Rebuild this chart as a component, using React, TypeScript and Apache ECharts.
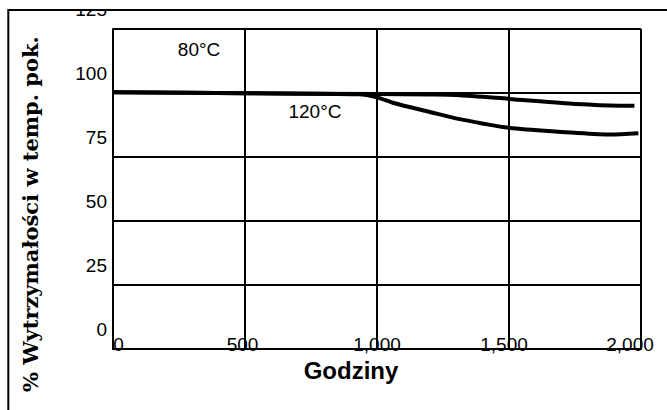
import React, { useEffect, useRef } from "react";
import * as echarts from "echarts";

const hours80 = [0, 500, 1000, 1200, 1300, 1500, 1700, 1880, 1975];
const strength80 = [100.3, 99.9, 99.6, 99.4, 99.2, 97.7, 96.1, 95.1, 95.0];
const hours120 = [0, 500, 930, 1000, 1060, 1200, 1313, 1500, 1700, 1880, 1990];
const strength120 = [100.3, 99.9, 99.5, 98.3, 96.2, 92.6, 89.8, 86.4, 84.8, 83.8, 84.3];
const xTicks = [0, 500, 1000, 1500, 2000];
const xTickLabels = ["0", "500", "1,000", "1,500", "2,000"];
const yTicks = [0, 25, 50, 75, 100, 125];
const seriesNames = ["80°C", "120°C"];
const annotationTexts = ["80°C", "120°C"];
const annotationHours = [326, 765];
const annotationValues = [116.9, 92.8];

export default function App() {
  const ref = useRef<HTMLDivElement>(null);
  useEffect(() => {
    if (!ref.current) return;
    const chart = echarts.init(ref.current, null, { renderer: "svg" });
    const font = "Liberation Sans, Arial, sans-serif";
    const richKeys = ["a", "b", "c", "d", "e"];
    const pads: Record<string, number[]> = {
      a: [0, 0, 0, 11],
      b: [0, 5, 0, 0],
      c: [0, 0, 0, 0],
      d: [0, 10, 0, 0],
      e: [0, 22, 0, 0],
    };
    const rich: any = {};
    richKeys.forEach((k) => {
      rich[k] = { fontSize: 19, fontFamily: font, color: "#000", padding: pads[k] };
    });
    const frame = [
      { type: "rect", z: 100, shape: { x: 0, y: 0, width: 667, height: 9 }, style: { fill: "#fff" } },
      { type: "line", z: 101, shape: { x1: 8, y1: 10, x2: 667, y2: 10 }, style: { stroke: "#000", lineWidth: 2 } },
      { type: "line", z: 101, shape: { x1: 8.3, y1: 9, x2: 8.3, y2: 410 }, style: { stroke: "#000", lineWidth: 2 } },
      { type: "line", z: 50, shape: { x1: 641, y1: 29, x2: 641, y2: 349 }, style: { stroke: "#000", lineWidth: 2 } },
    ];
    chart.setOption({
      animation: false,
      backgroundColor: "#fff",
      grid: { left: 113, right: 26, top: 29, bottom: 61, show: false },
      xAxis: {
        type: "value",
        min: 0,
        max: 2000,
        interval: 500,
        name: "Godziny",
        nameLocation: "middle",
        nameGap: 5,
        nameTextStyle: {
          fontSize: 24,
          fontWeight: "bold",
          fontFamily: font,
          color: "#000",
          padding: [0, 52, 0, 0],
          verticalAlign: "top",
        },
        axisLine: { show: true, lineStyle: { color: "#000", width: 2 } },
        axisTick: { show: false },
        splitLine: { show: true, lineStyle: { color: "#000", width: 2 } },
        axisLabel: {
          margin: -14,
          formatter: (v: number) => {
            const i = xTicks.indexOf(v);
            return i >= 0 ? `{${richKeys[i]}|${xTickLabels[i]}}` : "";
          },
          rich,
        },
      },
      yAxis: {
        type: "value",
        min: 0,
        max: 125,
        interval: 25,
        name: "% Wytrzymałości w temp. pok.",
        nameLocation: "middle",
        nameGap: 72,
        nameRotate: 90,
        nameTextStyle: {
          fontSize: 21,
          fontWeight: "bold",
          fontFamily: "DejaVu Serif, serif",
          color: "#000",
          padding: [0, 50, 0, 0],
        },
        axisLine: { show: true, lineStyle: { color: "#000", width: 2 } },
        axisTick: { show: false },
        splitLine: { show: true, lineStyle: { color: "#000", width: 2 } },
        axisLabel: {
          fontSize: 19,
          fontFamily: font,
          color: "#000",
          margin: 6,
          verticalAlign: "bottom",
          padding: [0, 0, 10, 0],
          formatter: (v: number) => (yTicks.indexOf(v) >= 0 ? String(v) : ""),
        },
      },
      graphic: frame,
      series: [
        {
          name: seriesNames[0],
          type: "line",
          data: hours80.map((h, i) => [h, strength80[i]]),
          smooth: 0.3,
          showSymbol: false,
          lineStyle: { color: "#000", width: 4 },
          z: 5,
        },
        {
          name: seriesNames[1],
          type: "line",
          data: hours120.map((h, i) => [h, strength120[i]]),
          smooth: 0.3,
          showSymbol: false,
          lineStyle: { color: "#000", width: 4 },
          z: 5,
        },
      ],
    });
    const labels = annotationTexts.map((t, i) => {
      const p = chart.convertToPixel({ gridIndex: 0 }, [annotationHours[i], annotationValues[i]]) as number[];
      return {
        type: "text",
        z: 60,
        x: p[0],
        y: p[1],
        style: {
          text: t,
          fontSize: 19,
          fontFamily: font,
          fill: "#000",
          align: "center",
          verticalAlign: "middle",
        },
      };
    });
    chart.setOption({ graphic: [...frame, ...labels] });
    return () => chart.dispose();
  }, []);
  return (
    <div
      ref={ref}
      style={{ position: "fixed", left: 0, top: 0, width: 667, height: 410, background: "#fff" }}
    />
  );
}
